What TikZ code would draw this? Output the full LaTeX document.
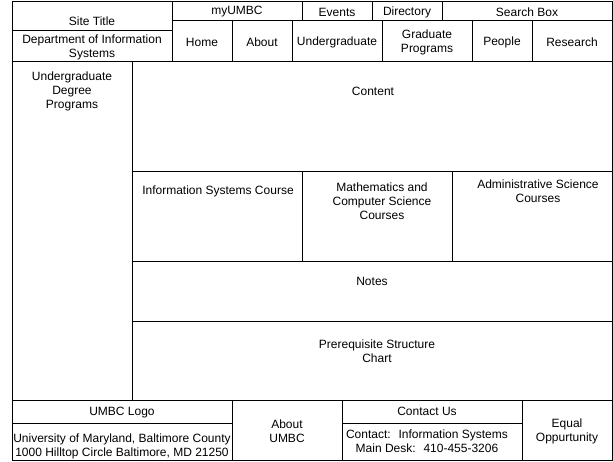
\documentclass[tikz,border=0pt]{standalone}
\usepackage{fontspec}
\setmainfont{Liberation Sans}
\usepackage{tikz}
\tikzstyle{cell} = [draw, rectangle, line width=1pt, inner sep=0pt, outer sep=0pt]
\tikzstyle{txt}  = [inner sep=0pt, align=center, yshift=-1.5pt, font=\fontsize{12}{14}\selectfont]

\begin{document}
\begin{tikzpicture}[x=1pt, y=-1pt]
  \useasboundingbox (0,0) rectangle (613,461);

  %put the site title on the left
  \node[cell, minimum width=160pt, minimum height=29pt] (title) at (92,15.5) {};
  \node[txt] (titletxt) at (92,20) {Site Title};
  \node[cell, minimum width=160pt, minimum height=31pt, label={[txt]center:Department of Information\\Systems}] (dept) at (92,45.5) {};

  %put the top links on the right
  \foreach \name/\x/\w/\txt in {myumbc/237/130/myUMBC, events/337/70/Events, directory/407/70/Directory, search/527/170/Search Box}{
    \node[cell, minimum width=\w pt, minimum height=19pt, label={[txt]center:\txt}] (\name) at (\x,10.5) {};
  }

  %put the menu under them
  \foreach \name/\x/\w/\txt in {home/202/60/Home, about/262/60/About, undergrad/337/90/Undergraduate, grad/427/90/{Graduate\\Programs}, people/502/60/People, research/572/80/Research}{
    \node[cell, minimum width=\w pt, minimum height=41pt, label={[txt]center:\txt}] (\name) at (\x,40.5) {};
  }

  %sidebar and content
  \node[cell, minimum width=120pt, minimum height=339pt] (side) at (72,230.5) {};
  \node[txt] (sidetxt) at (72,90) {Undergraduate\\Degree\\Programs};
  \node[cell, minimum width=480pt, minimum height=110pt] (content) at (372,116) {};
  \node[txt] (contenttxt) at (373,90) {Content};

  %the three course boxes
  \foreach \name/\x/\w in {iscourse/217/170, mathcourse/377/150, admincourse/532/160}{
    \node[cell, minimum width=\w pt, minimum height=90pt] (\name) at (\x,216) {};
  }
  \node[txt] (istxt) at (218,190) {Information Systems Course};
  \node[txt] (mathtxt) at (382,200) {Mathematics and\\Computer Science\\Courses};
  \node[txt] (admintxt) at (538,190) {Administrative Science\\Courses};

  \node[cell, minimum width=480pt, minimum height=60pt] (notes) at (372,291) {};
  \node[txt] (notestxt) at (372,280) {Notes};
  \node[cell, minimum width=480pt, minimum height=79pt] (prereq) at (372,360.5) {};
  \node[txt] (prereqtxt) at (377,350) {Prerequisite Structure\\Chart};

  %footer
  \node[cell, minimum width=220pt, minimum height=60pt] (logo) at (122,430) {};
  \node[cell, minimum width=220pt, minimum height=23pt, label={[txt]center:UMBC Logo}] (logotitle) at (122,411.5) {};
  \node[txt] (address) at (122,445) {University of Maryland, Baltimore County\\1000 Hilltop Circle Baltimore, MD 21250};
  \node[cell, minimum width=110pt, minimum height=60pt, label={[txt]center:About\\UMBC}] (aboutumbc) at (287,430) {};
  \node[cell, minimum width=180pt, minimum height=60pt] (contact) at (432,430) {};
  \node[cell, minimum width=180pt, minimum height=23pt] (contacttitle) at (432,411.5) {};
  \node[txt] (contacttxt) at (427,410) {Contact Us};
  \node[txt] (desk) at (427,440) {Contact:~ Information Systems\\Main Desk:~ 410-455-3206};
  \node[cell, minimum width=90pt, minimum height=60pt, label={[txt]center:Equal\\Oppurtunity}] (equal) at (567,430) {};
\end{tikzpicture}
\end{document}
